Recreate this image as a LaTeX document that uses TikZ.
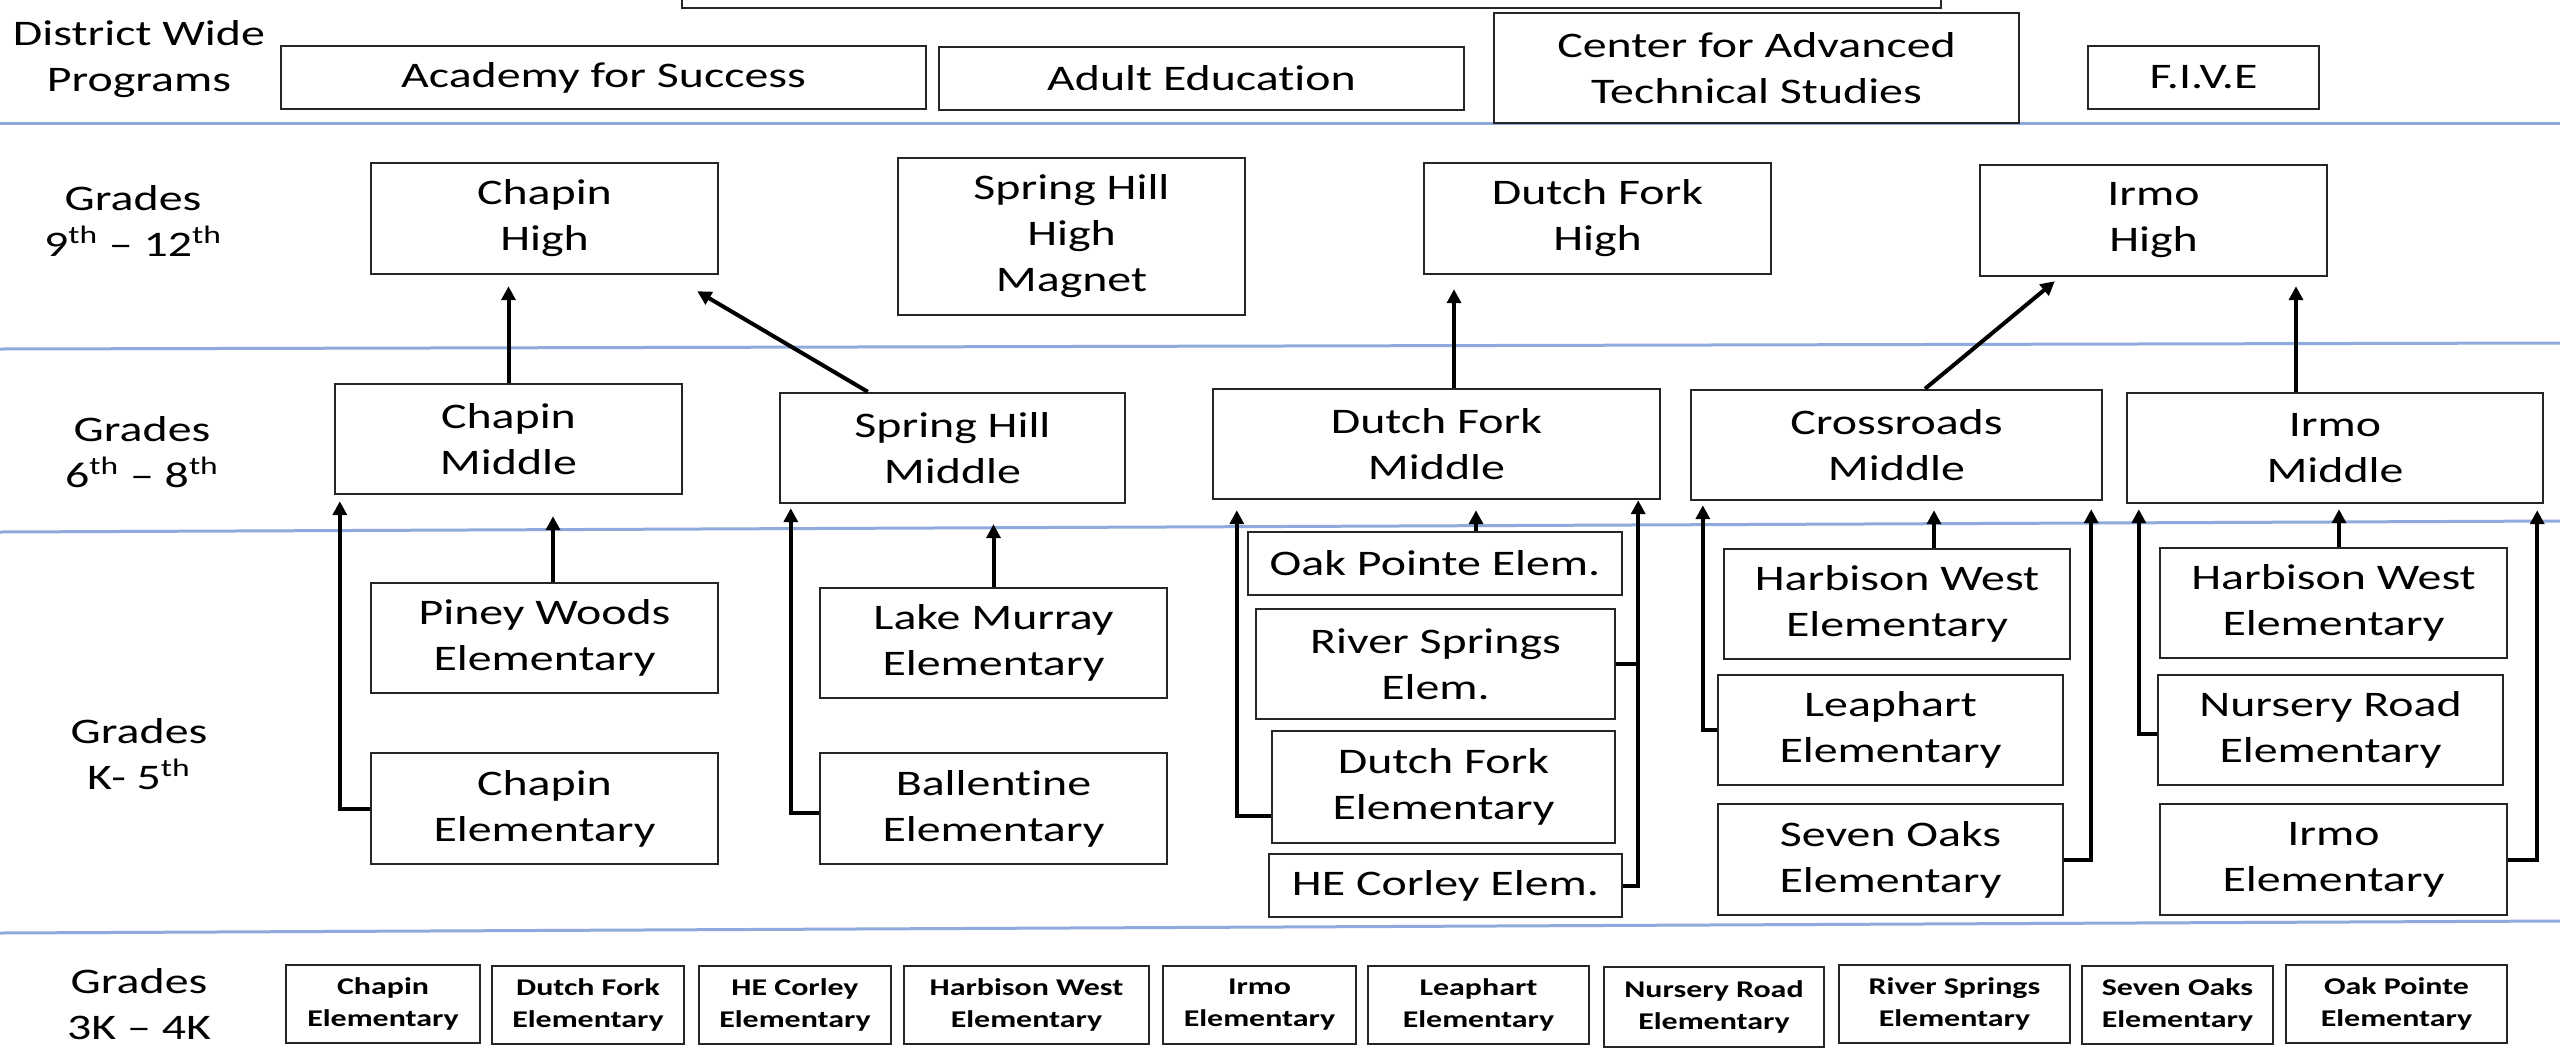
\documentclass[tikz,border=0pt]{standalone}
\usepackage{fontspec}
\setmainfont{Carlito}[FakeStretch=1.33,Ligatures={NoCommon}]
\usetikzlibrary{arrows.meta,calc}
\definecolor{sepblue}{RGB}{143,170,220}
\newcommand\placebox[7][]{\node[box,#1,minimum width={(#5-#3)*0.5pt},minimum height={(#6-#4)*0.5pt}] (#2) at ({(#3+#5)/2},{(#4+#6)/2}) {#7};}
\tikzset{
  box/.style={draw=black!85, line width=1.2pt, fill=white, inner sep=0pt, align=center, font=\fontsize{18}{23}\selectfont},
  small/.style={font=\bfseries\fontsize{12}{16}\selectfont},
  lbl/.style={align=center, inner sep=0pt, font=\fontsize{18}{23}\selectfont},
  arr/.style={line width=2pt, -{Triangle[length=7pt,width=7pt]}},
  link/.style={line width=2pt},
  sep/.style={draw=sepblue, line width=1.5pt}
}
\begin{document}
\begin{tikzpicture}[x=0.5pt,y=-0.5pt]
\useasboundingbox[fill=white] (0,0) rectangle (2560,1051);
% separators
\draw[sep] (0,123.5) -- (2560,123.5);
\draw[sep] (0,349) -- (2560,343);
\draw[sep] (0,532) -- (2560,521);
\draw[sep] (0,933) -- (2560,921);
% row labels
\node[lbl] (l0) at (139,59) {District Wide\\Programs};
\node[lbl] (l1) at (133,221) {Grades\\9\textsuperscript{th} -- 12\textsuperscript{th}};
\node[lbl] (l2) at (142,452) {Grades\\6\textsuperscript{th} -- 8\textsuperscript{th}};
\node[lbl] (l3) at (139,754) {Grades\\K- 5\textsuperscript{th}};
\node[lbl] (l4) at (139,1004) {Grades\\3K -- 4K};
% district wide
\placebox{topbox}{682}{-100}{1941}{8}{}
\placebox{acad}{281}{46}{926}{109}{Academy for Success}
\placebox{adult}{939}{47}{1464}{110}{Adult Education}
\placebox{cats}{1494}{13}{2019}{123}{Center for Advanced\\Technical Studies}
\placebox{five}{2088}{46}{2319}{109}{F.I.V.E}
% high
\placebox{ch}{371}{163}{718}{274}{Chapin\\High}
\placebox{shh}{898}{158}{1245}{315}{Spring Hill\\High\\Magnet}
\placebox{dfh}{1424}{163}{1771}{274}{Dutch Fork\\High}
\placebox{ih}{1980}{165}{2327}{276}{Irmo\\High}
% middle
\placebox{cm}{335}{384}{682}{494}{Chapin\\Middle}
\placebox{shm}{780}{393}{1125}{503}{Spring Hill\\Middle}
\placebox{dfm}{1213}{389}{1660}{499}{Dutch Fork\\Middle}
\placebox{crm}{1691}{390}{2102}{500}{Crossroads\\Middle}
\placebox{im}{2127}{393}{2543}{503}{Irmo\\Middle}
% elementary
\placebox{pw}{371}{583}{718}{693}{Piney Woods\\Elementary}
\placebox{lm}{820}{588}{1167}{698}{Lake Murray\\Elementary}
\placebox{ce}{371}{753}{718}{864}{Chapin\\Elementary}
\placebox{be}{820}{753}{1167}{864}{Ballentine\\Elementary}
\placebox{op}{1248}{532}{1622}{595}{Oak Pointe Elem.}
\placebox{rs}{1256}{609}{1615}{719}{River Springs\\Elem.}
\placebox{dfe}{1272}{731}{1615}{843}{Dutch Fork\\Elementary}
\placebox{hec}{1269}{854}{1622}{917}{HE Corley Elem.}
\placebox{hwa}{1724}{549}{2070}{659}{Harbison West\\Elementary}
\placebox{lp}{1718}{675}{2063}{785}{Leaphart\\Elementary}
\placebox{so}{1718}{804}{2063}{915}{Seven Oaks\\Elementary}
\placebox{hwb}{2160}{548}{2507}{658}{Harbison West\\Elementary}
\placebox{nr}{2158}{675}{2503}{785}{Nursery Road\\Elementary}
\placebox{ie}{2160}{804}{2507}{915}{Irmo\\Elementary}
% 3K-4K
\placebox[small]{ka}{286}{965}{480}{1043}{Chapin\\Elementary}
\placebox[small]{kb}{492}{966}{684}{1044}{Dutch Fork\\Elementary}
\placebox[small]{kc}{699}{966}{891}{1044}{HE Corley\\Elementary}
\placebox[small]{kd}{904}{966}{1149}{1044}{Harbison West\\Elementary}
\placebox[small]{ke}{1163}{966}{1356}{1044}{Irmo\\Elementary}
\placebox[small]{kf}{1368}{966}{1589}{1044}{Leaphart\\Elementary}
\placebox[small]{kg}{1604}{967}{1824}{1047}{Nursery Road\\Elementary}
\placebox[small]{kh}{1839}{965}{2070}{1043}{River Springs\\Elementary}
\placebox[small]{ki}{2082}{966}{2273}{1044}{Seven Oaks\\Elementary}
\placebox[small]{kj}{2286}{965}{2507}{1043}{Oak Pointe\\Elementary}
% middle -> high
\draw[arr, shorten >=5.5pt] (cm.north) -- (cm.north |- ch.south);
\draw[arr] ([xshift=44.5pt]shm.north west) -- ([xshift=-11pt,yshift=-8pt]ch.south east);
\draw[arr, shorten >=7pt] ([xshift=8.75pt]dfm.north) -- ([xshift=8.75pt]dfm.north |- dfh.south);
\draw[arr] ([xshift=14.25pt]crm.north) -- ([xshift=38pt,yshift=-2pt]ih.south west);
\draw[arr, shorten >=4.5pt] ([xshift=-19.5pt]im.north) -- ([xshift=-19.5pt]im.north |- ih.south);
% elementary -> middle
\draw[arr, shorten >=10.5pt] ([xshift=4.25pt]pw.north) -- ([xshift=4.25pt]pw.north |- cm.south);
\draw[arr, shorten >=3pt] (ce.west) -| ([xshift=3pt]cm.south west);
\draw[arr, shorten >=10pt] (lm.north) -- (lm.north |- shm.south);
\draw[arr, shorten >=2pt] ([yshift=-2pt]be.west) -| ([xshift=6pt]shm.south west);
\draw[arr, shorten >=5pt] ([xshift=20.5pt]op.north) -- ([xshift=20.5pt]op.north |- dfm.south);
\draw[arr, shorten >=5pt] ([yshift=-14.5pt]dfe.west) -| ([xshift=12.5pt]dfm.south west);
\coordinate (dfr) at ([xshift=-11.5pt]dfm.south east);
\draw[arr] (hec.east) -| (dfr);
\draw[link] (rs.east) -- (rs.east -| dfr);
\draw[arr, shorten >=4.5pt] ([xshift=18.5pt]hwa.north) -- ([xshift=18.5pt]hwa.north |- crm.south);
\draw[arr, shorten >=2pt] (lp.west) -| ([xshift=6.5pt]crm.south west);
\draw[arr, shorten >=4pt] (so.east) -| ([xshift=-6pt]crm.south east);
\draw[arr, shorten >=2.5pt] ([xshift=2.75pt]hwb.north) -- ([xshift=2.75pt]hwb.north |- im.south);
\draw[arr, shorten >=2.5pt] ([yshift=-2pt]nr.west) -| ([xshift=6.5pt]im.south west);
\draw[arr, shorten >=3pt] (ie.east) -| ([xshift=-3.5pt]im.south east);
\end{tikzpicture}
\end{document}
